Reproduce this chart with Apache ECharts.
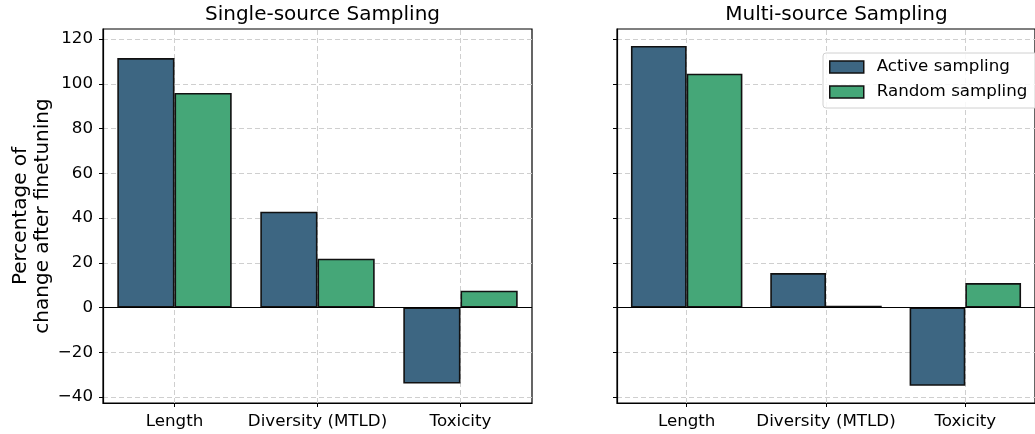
<!DOCTYPE html>
<html>
<head>
<meta charset="utf-8">
<script src="https://cdn.jsdelivr.net/npm/echarts@6/dist/echarts.min.js"></script>
<style>
  html, body { margin: 0; padding: 0; background: #fff; }
  #main { width: 1035px; height: 434px; }
</style>
</head>
<body>
<div id="main"></div>
<script>
// data
const categories = ['Length', 'Diversity (MTLD)', 'Toxicity'];
const singleActive = [111.5, 42.8, -34.0];
const singleRandom = [95.9, 21.8, 7.5];
const multiActive = [116.9, 15.4, -35.0];
const multiRandom = [104.5, 0.8, 10.9];
const yTicks = [-40, -20, 0, 20, 40, 60, 80, 100, 120];

const FONT = 'DejaVu Sans';
const activeColor = '#3d6682';
const randomColor = '#45a778';
const gridDash = { color: '#cfcfcf', width: 1, type: [5, 3] };

const chart = echarts.init(document.getElementById('main'));

function xAxisFor(gridIndex) {
  return {
    type: 'category',
    gridIndex: gridIndex,
    data: categories,
    axisLine: { show: true, onZero: false, lineStyle: { color: '#000', width: 1.2 } },
    axisTick: { show: true, alignWithLabel: true, length: 4, lineStyle: { color: '#000', width: 1 } },
    axisLabel: { color: '#000', fontSize: 16.7, fontFamily: FONT, margin: 10, interval: 0 },
    splitLine: { show: false }
  };
}

function yAxisFor(gridIndex, showLabels) {
  return {
    type: 'value',
    gridIndex: gridIndex,
    min: -42.7,
    max: 124.5,
    name: showLabels ? 'Percentage of\nchange after finetuning' : '',
    nameLocation: 'middle',
    nameGap: 48,
    nameTextStyle: { color: '#000', fontSize: 20, fontFamily: FONT, lineHeight: 22 },
    axisLine: { show: true, lineStyle: { color: '#000', width: 1.2 } },
    axisTick: { show: true, length: 4, customValues: yTicks, lineStyle: { color: '#000', width: 1 } },
    axisLabel: {
      show: showLabels,
      customValues: yTicks,
      color: '#000',
      fontSize: 16.7,
      fontFamily: FONT,
      margin: 10,
      formatter: v => String(v).replace('-', '\u2212')
    },
    splitLine: { show: true, lineStyle: gridDash }
  };
}

// vertical dashed lines at category centres (matplotlib grid), on an empty helper series
function vGridSeries(axisIdx) {
  return {
    type: 'line',
    xAxisIndex: axisIdx,
    yAxisIndex: axisIdx,
    data: [],
    silent: true,
    z: 1,
    animation: false,
    markLine: {
      silent: true,
      symbol: 'none',
      z: 1,
      animation: false,
      label: { show: false },
      lineStyle: gridDash,
      data: categories.map(c => ({ xAxis: c }))
    }
  };
}

function zeroMark() {
  return {
    silent: true,
    symbol: 'none',
    z: 6,
    animation: false,
    label: { show: false },
    lineStyle: { color: '#000', width: 1, type: 'solid' },
    data: [{ yAxis: 0 }]
  };
}

function barSeries(name, data, color, axisIdx, mark) {
  const s = {
    name: name,
    type: 'bar',
    xAxisIndex: axisIdx,
    yAxisIndex: axisIdx,
    data: data,
    barGap: '0%',
    barCategoryGap: '20%',
    itemStyle: { color: color, borderColor: '#111', borderWidth: 1.6 },
    emphasis: { disabled: true },
    animation: false
  };
  if (mark) s.markLine = mark;
  return s;
}

const option = {
  textStyle: { fontFamily: FONT },
  title: [
    { text: 'Single-source Sampling', left: 317.5, top: 0, textAlign: 'center',
      textStyle: { fontSize: 20, fontWeight: 'normal', color: '#000', fontFamily: FONT } },
    { text: 'Multi-source Sampling', left: 831.5, top: 0, textAlign: 'center',
      textStyle: { fontSize: 20, fontWeight: 'normal', color: '#000', fontFamily: FONT } }
  ],
  legend: {
    data: ['Active sampling', 'Random sampling'],
    orient: 'vertical',
    left: 823,
    top: 53,
    icon: 'rect',
    itemWidth: 34,
    itemHeight: 12,
    itemGap: 5,
    padding: [4, 10, 6, 6],
    backgroundColor: 'rgba(255,255,255,0.85)',
    borderColor: '#d0d0d0',
    borderWidth: 1,
    borderRadius: 3,
    itemStyle: { borderColor: '#111', borderWidth: 1.5 },
    textStyle: { color: '#000', fontSize: 16.7, fontFamily: FONT, lineHeight: 20, padding: [0, 0, 0, 8] }
  },
  grid: [
    { left: 103, top: 29, width: 429, height: 374, show: true, borderColor: '#000', borderWidth: 1.2, backgroundColor: 'transparent' },
    { left: 617, top: 29, width: 429, height: 374, show: true, borderColor: '#000', borderWidth: 1.2, backgroundColor: 'transparent' }
  ],
  xAxis: [xAxisFor(0), xAxisFor(1)],
  yAxis: [yAxisFor(0, true), yAxisFor(1, false)],
  series: [
    vGridSeries(0),
    vGridSeries(1),
    barSeries('Active sampling', singleActive, activeColor, 0),
    barSeries('Random sampling', singleRandom, randomColor, 0, zeroMark()),
    barSeries('Active sampling', multiActive, activeColor, 1),
    barSeries('Random sampling', multiRandom, randomColor, 1, zeroMark())
  ]
};

chart.setOption(option);
</script>
</body>
</html>
